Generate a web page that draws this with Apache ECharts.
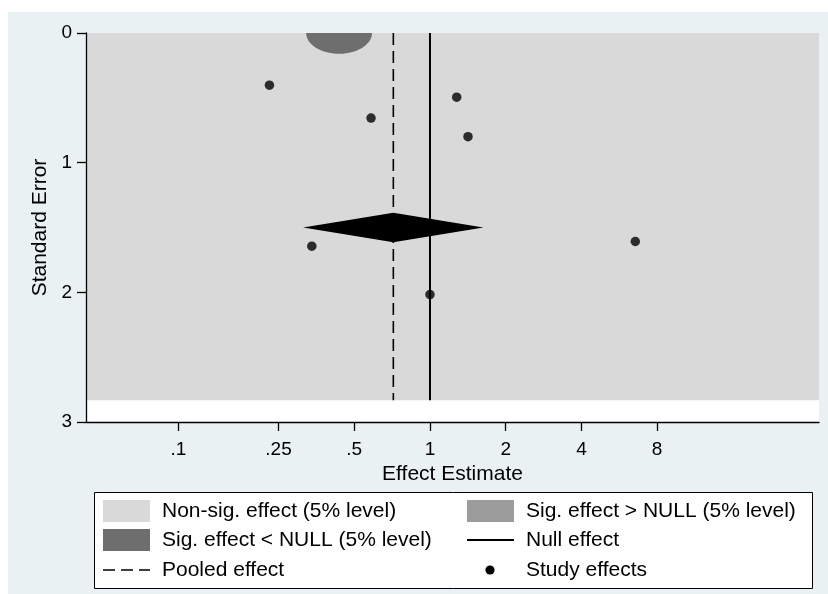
<!DOCTYPE html>
<html>
<head>
<meta charset="utf-8">
<script src="https://cdn.jsdelivr.net/npm/echarts@6/dist/echarts.min.js"></script>
<style>
  html, body { margin: 0; padding: 0; background: #ffffff; }
  #chart { width: 828px; height: 594px; }
</style>
</head>
<body>
<div id="chart"></div>
<script>
// Study-level effect estimates (ratio scale) and their standard errors
const studyEffects = [0.23, 0.583, 1.277, 1.416, 0.339, 6.55, 1.0];
const studySE      = [0.402, 0.656, 0.495, 0.800, 1.644, 1.608, 2.017];

// Pooled estimate, its 95% CI and where the summary diamond sits
const pooledEffect = 0.715;
const pooledCI = [0.313, 1.63];
const pooledDiamondSE = 1.50;
const pooledDiamondHalfHeight = 0.113;
const nullEffect = 1;

// Axis ranges (effect on ratio scale, SE on linear scale)
const effectRange = [0.0429, 35.2];
const seRange = [0, 3];
const seShadedMax = 2.832;

// Tick values and labels
const effectTicks = [0.1, 0.25, 0.5, 1, 2, 4, 8];
const effectTickLabels = ['.1', '.25', '.5', '1', '2', '4', '8'];
const seTicks = [0, 1, 2, 3];

// Contour patch where effects fall significantly below the null
const lowerSigPatch = [0.322, 0.588, 0.160]; // [left effect, right effect, depth in SE]

// Legend entries
const legendEntries = [
  { kind: 'swatch', color: '#9c9c9c', text: 'Sig. effect > NULL (5% level)', col: 1, row: 0 },
  { kind: 'swatch', color: '#d9d9d9', text: 'Non-sig. effect (5% level)', col: 0, row: 0 },
  { kind: 'swatch', color: '#6e6e6e', text: 'Sig. effect < NULL (5% level)', col: 0, row: 1 },
  { kind: 'line', text: 'Null effect', col: 1, row: 1 },
  { kind: 'dash', text: 'Pooled effect', col: 0, row: 2 },
  { kind: 'dot', text: 'Study effects', col: 1, row: 2 }
];

const FONT = "'Liberation Sans', Arial, Helvetica, sans-serif";
const ln = Math.log;
const tickLogs = effectTicks.map(ln);

function tickLabel(v) {
  let best = 0;
  for (let i = 1; i < tickLogs.length; i++) {
    if (Math.abs(tickLogs[i] - v) < Math.abs(tickLogs[best] - v)) best = i;
  }
  return effectTickLabels[best];
}

// Legend drawn as graphic elements laid out in two columns
const legendGraphics = [{
  type: 'rect', shape: { x: 94.5, y: 492.5, width: 718, height: 96 },
  style: { fill: '#ffffff', stroke: '#000000', lineWidth: 1 }, z: 50
}];
const colSwatchX = [103, 467];
const colTextX = [162, 526];
const rowY = [511, 540, 570];
legendEntries.forEach(function (e) {
  const x = colSwatchX[e.col], y = rowY[e.row];
  if (e.kind === 'swatch') {
    legendGraphics.push({ type: 'rect', shape: { x: x, y: y - 11, width: 47, height: 22 },
      style: { fill: e.color }, z: 51 });
  } else if (e.kind === 'line') {
    legendGraphics.push({ type: 'line', shape: { x1: x, y1: y, x2: x + 47, y2: y },
      style: { stroke: '#000', lineWidth: 2 }, z: 51 });
  } else if (e.kind === 'dash') {
    legendGraphics.push({ type: 'line', shape: { x1: x, y1: y, x2: x + 47, y2: y },
      style: { stroke: '#000', lineWidth: 1.6, lineDash: [12, 6] }, z: 51 });
  } else if (e.kind === 'dot') {
    legendGraphics.push({ type: 'circle', shape: { cx: x + 23, cy: y, r: 4.6 },
      style: { fill: '#000' }, z: 51 });
  }
  legendGraphics.push({ type: 'text', x: colTextX[e.col], y: y,
    style: { text: e.text, font: '21px ' + FONT, fill: '#000', textVerticalAlign: 'middle', textAlign: 'left' },
    z: 51 });
});

const chart = echarts.init(document.getElementById('chart'), null, { renderer: 'canvas' });

chart.setOption({
  backgroundColor: '#ffffff',
  animation: false,
  graphic: [
    { type: 'rect', shape: { x: 8, y: 12, width: 820, height: 582 },
      style: { fill: '#e9f1f2' }, z: -100, silent: true }
  ].concat(legendGraphics),
  grid: {
    left: 86, top: 33, width: 733, height: 389,
    show: true, backgroundColor: '#ffffff', borderWidth: 0
  },
  xAxis: {
    type: 'value',
    z: 10,
    min: ln(effectRange[0]),
    max: ln(effectRange[1]),
    axisLine: { show: true, onZero: false, lineStyle: { color: '#000', width: 1.3 } },
    axisTick: { show: true, length: 9, customValues: tickLogs, lineStyle: { color: '#000', width: 1.3 } },
    axisLabel: {
      customValues: tickLogs, formatter: tickLabel, margin: 18,
      color: '#000', fontSize: 19, fontFamily: FONT
    },
    splitLine: { show: false },
    name: 'Effect Estimate', nameLocation: 'middle', nameGap: 36,
    nameTextStyle: { color: '#000', fontSize: 21, fontFamily: FONT }
  },
  yAxis: {
    type: 'value',
    z: 10,
    inverse: true,
    min: seRange[0], max: seRange[1], interval: 1,
    axisLine: { show: true, onZero: false, lineStyle: { color: '#000', width: 1.3 } },
    axisTick: { show: true, length: 9, customValues: seTicks, lineStyle: { color: '#000', width: 1.3 } },
    axisLabel: { customValues: seTicks, margin: 14, color: '#000', fontSize: 19, fontFamily: FONT },
    splitLine: { show: false },
    name: 'Standard Error', nameLocation: 'middle', nameGap: 29, nameRotate: 90,
    nameTextStyle: { color: '#000', fontSize: 21, fontFamily: FONT }
  },
  series: [
    {
      // Non-significant contour region
      name: 'Non-sig. effect (5% level)',
      type: 'custom', z: 1, silent: true,
      data: [[ln(effectRange[0]), seRange[0], ln(effectRange[1]), seShadedMax]],
      renderItem: function (params, api) {
        const a = api.coord([api.value(0), api.value(1)]);
        const b = api.coord([api.value(2), api.value(3)]);
        return { type: 'rect', shape: { x: a[0], y: a[1], width: b[0] - a[0], height: b[1] - a[1] },
          style: { fill: '#d9d9d9' } };
      }
    },
    {
      // Significant-below-null contour patch
      name: 'Sig. effect < NULL (5% level)',
      type: 'custom', z: 2, silent: true,
      data: [[ln(lowerSigPatch[0]), ln(lowerSigPatch[1]), lowerSigPatch[2]]],
      encode: { x: [0, 1], y: 2 },
      renderItem: function (params, api) {
        const l = api.coord([api.value(0), 0]);
        const r = api.coord([api.value(1), 0]);
        const b = api.coord([api.value(0), api.value(2)]);
        const cx = (l[0] + r[0]) / 2, rx = (r[0] - l[0]) / 2, ry = b[1] - l[1];
        const pts = [];
        for (let k = 0; k <= 60; k++) {
          const t = Math.PI * k / 60;
          pts.push([cx + rx * Math.cos(t), l[1] + ry * Math.sin(t)]);
        }
        return { type: 'polygon', shape: { points: pts }, style: { fill: '#6e6e6e' } };
      }
    },
    {
      name: 'Null effect',
      type: 'line', z: 3, silent: true, showSymbol: false,
      data: [[ln(nullEffect), seRange[0]], [ln(nullEffect), seShadedMax]],
      lineStyle: { color: '#000', width: 2 }
    },
    {
      name: 'Pooled effect',
      type: 'line', z: 3, silent: true, showSymbol: false,
      data: [[ln(pooledEffect), seRange[0]], [ln(pooledEffect), seShadedMax]],
      lineStyle: { color: '#000', width: 1.6, type: [12, 6] }
    },
    {
      // Pooled-effect diamond spanning the 95% CI
      name: 'Pooled diamond',
      type: 'custom', z: 4, silent: true,
      data: [[ln(pooledCI[0]), ln(pooledEffect), ln(pooledCI[1]), pooledDiamondSE, pooledDiamondHalfHeight]],
      encode: { x: [0, 1, 2], y: 3 },
      renderItem: function (params, api) {
        const lo = api.value(0), mid = api.value(1), hi = api.value(2);
        const se = api.value(3), h = api.value(4);
        const pts = [
          api.coord([lo, se]), api.coord([mid, se - h]),
          api.coord([hi, se]), api.coord([mid, se + h])
        ];
        return { type: 'polygon', shape: { points: pts }, style: { fill: '#000' } };
      }
    },
    {
      name: 'Study effects',
      type: 'scatter', z: 5, silent: true,
      symbol: 'circle', symbolSize: 9.5,
      itemStyle: { color: '#000' },
      data: studyEffects.map(function (e, i) { return [ln(e), studySE[i]]; })
    }
  ]
});
</script>
</body>
</html>
